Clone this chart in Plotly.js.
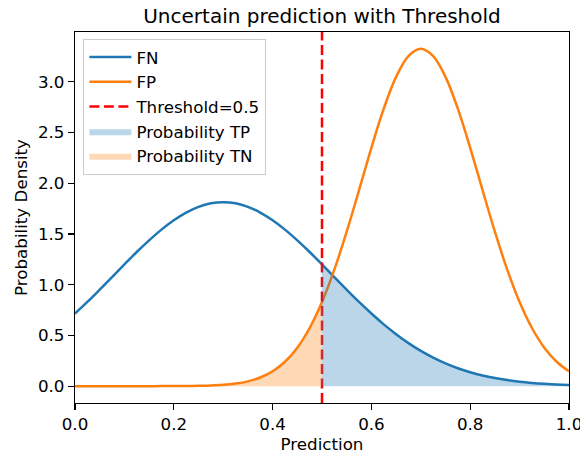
<!DOCTYPE html>
<html>
<head>
<meta charset="utf-8">
<script src="https://cdn.plot.ly/plotly-3.0.1.min.js"></script>
<style>
  html, body { margin: 0; padding: 0; background: #ffffff; }
  #chart { width: 580px; height: 459px; }
</style>
</head>
<body>
<div id="chart"></div>
<script>
// Prediction grid (step 0.025)
const prediction = [
  0.000, 0.025, 0.050, 0.075, 0.100, 0.125, 0.150, 0.175, 0.200, 0.225,
  0.250, 0.275, 0.300, 0.325, 0.350, 0.375, 0.400, 0.425, 0.450, 0.475,
  0.500, 0.525, 0.550, 0.575, 0.600, 0.625, 0.650, 0.675, 0.700, 0.725,
  0.750, 0.775, 0.800, 0.825, 0.850, 0.875, 0.900, 0.925, 0.950, 0.975,
  1.000
];

// Density of predictions for the negative-labelled (FN) cases
const densityFN = [
  0.716, 0.830, 0.951, 1.075, 1.200, 1.322, 1.437, 1.543, 1.635, 1.711,
  1.767, 1.802, 1.813, 1.802, 1.767, 1.711, 1.635, 1.543, 1.437, 1.322,
  1.200, 1.075, 0.951, 0.830, 0.716, 0.609, 0.512, 0.424, 0.347, 0.281,
  0.224, 0.176, 0.137, 0.105, 0.080, 0.060, 0.044, 0.032, 0.023, 0.016,
  0.012
];

// Density of predictions for the positive-labelled (FP) cases
const densityFP = [
  0.0000, 0.0000, 0.0000, 0.0000, 0.0000, 0.0000, 0.0001, 0.0002, 0.0006, 0.0013,
  0.0029, 0.0063, 0.0128, 0.0252, 0.0473, 0.0849, 0.1461, 0.2406, 0.3796, 0.5732,
  0.8290, 1.1479, 1.5221, 1.9324, 2.3494, 2.7347, 3.0481, 3.2531, 3.3245, 3.2531,
  3.0481, 2.7347, 2.3494, 1.9324, 1.5221, 1.1479, 0.8290, 0.5732, 0.3796, 0.2406,
  0.1461
];

const threshold = 0.5;
const xTicks = [0.0, 0.2, 0.4, 0.6, 0.8, 1.0];
const yTicks = [0.0, 0.5, 1.0, 1.5, 2.0, 2.5, 3.0];

// Axis limits with 5% padding around the data
const yMax = Math.max(...densityFP, ...densityFN);
const yPad = 0.05 * yMax;
const yRange = [-yPad, yMax + yPad];

// Split the grid at the threshold for the shaded areas
const above = prediction.map((p, i) => i).filter(i => prediction[i] >= threshold);
const below = prediction.map((p, i) => i).filter(i => prediction[i] <= threshold);

const FONT = 'DejaVu Sans, Arial, sans-serif';
const FS = 16.7;

const traces = [
  {
    name: 'FN', x: prediction, y: densityFN, mode: 'lines', type: 'scatter',
    line: { color: '#1f77b4', width: 2.5, shape: 'spline', smoothing: 1 }
  },
  {
    name: 'FP', x: prediction, y: densityFP, mode: 'lines', type: 'scatter',
    line: { color: '#ff7f0e', width: 2.5, shape: 'spline', smoothing: 1 }
  },
  {
    name: 'Threshold=' + threshold, x: [threshold, threshold], y: yRange,
    mode: 'lines', type: 'scatter',
    line: { color: '#ff0000', width: 2.5, dash: '10px,4.5px' }
  },
  {
    name: 'Probability TP',
    x: above.map(i => prediction[i]), y: above.map(i => densityFN[i]),
    mode: 'lines', type: 'scatter', fill: 'tozeroy',
    fillcolor: 'rgba(31,119,180,0.3)',
    line: { width: 0, shape: 'spline', smoothing: 1, color: 'rgba(31,119,180,0)' }
  },
  {
    name: 'Probability TN',
    x: below.map(i => prediction[i]), y: below.map(i => densityFP[i]),
    mode: 'lines', type: 'scatter', fill: 'tozeroy',
    fillcolor: 'rgba(255,127,14,0.3)',
    line: { width: 0, shape: 'spline', smoothing: 1, color: 'rgba(255,127,14,0)' }
  }
];

const axisCommon = {
  showline: true, linecolor: '#000000', linewidth: 1.2, mirror: true,
  showgrid: false, zeroline: false,
  ticks: 'outside', ticklen: 6, tickwidth: 1.2, tickcolor: '#000000',
  tickfont: { family: FONT, size: FS, color: '#000000' },
  tickformat: '.1f', ticklabeloverflow: 'allow'
};

const layout = {
  width: 580, height: 459,
  margin: { l: 75, r: 11, t: 32, b: 56 },
  paper_bgcolor: '#ffffff', plot_bgcolor: '#ffffff',
  font: { family: FONT, color: '#000000' },
  title: {
    text: 'Uncertain prediction with Threshold',
    font: { family: FONT, size: 20, color: '#000000' },
    x: 0.5, xref: 'paper', y: 1 - 16 / 459, yanchor: 'middle'
  },
  xaxis: Object.assign({}, axisCommon, {
    range: [0, 1], tickvals: xTicks,
    title: { text: 'Prediction', font: { family: FONT, size: FS, color: '#000000' }, standoff: 4 }
  }),
  yaxis: Object.assign({}, axisCommon, {
    range: yRange, tickvals: yTicks,
    title: { text: 'Probability Density', font: { family: FONT, size: FS, color: '#000000' }, standoff: 6 }
  }),
  showlegend: true,
  legend: {
    x: 0.017, y: 0.982, xanchor: 'left', yanchor: 'top',
    bgcolor: 'rgba(255,255,255,0.8)', bordercolor: '#cccccc', borderwidth: 1,
    font: { family: FONT, size: FS, color: '#000000' },
    itemwidth: 42, tracegroupgap: 0
  }
};

Plotly.newPlot('chart', traces, layout, { displayModeBar: false, staticPlot: true });
</script>
</body>
</html>
